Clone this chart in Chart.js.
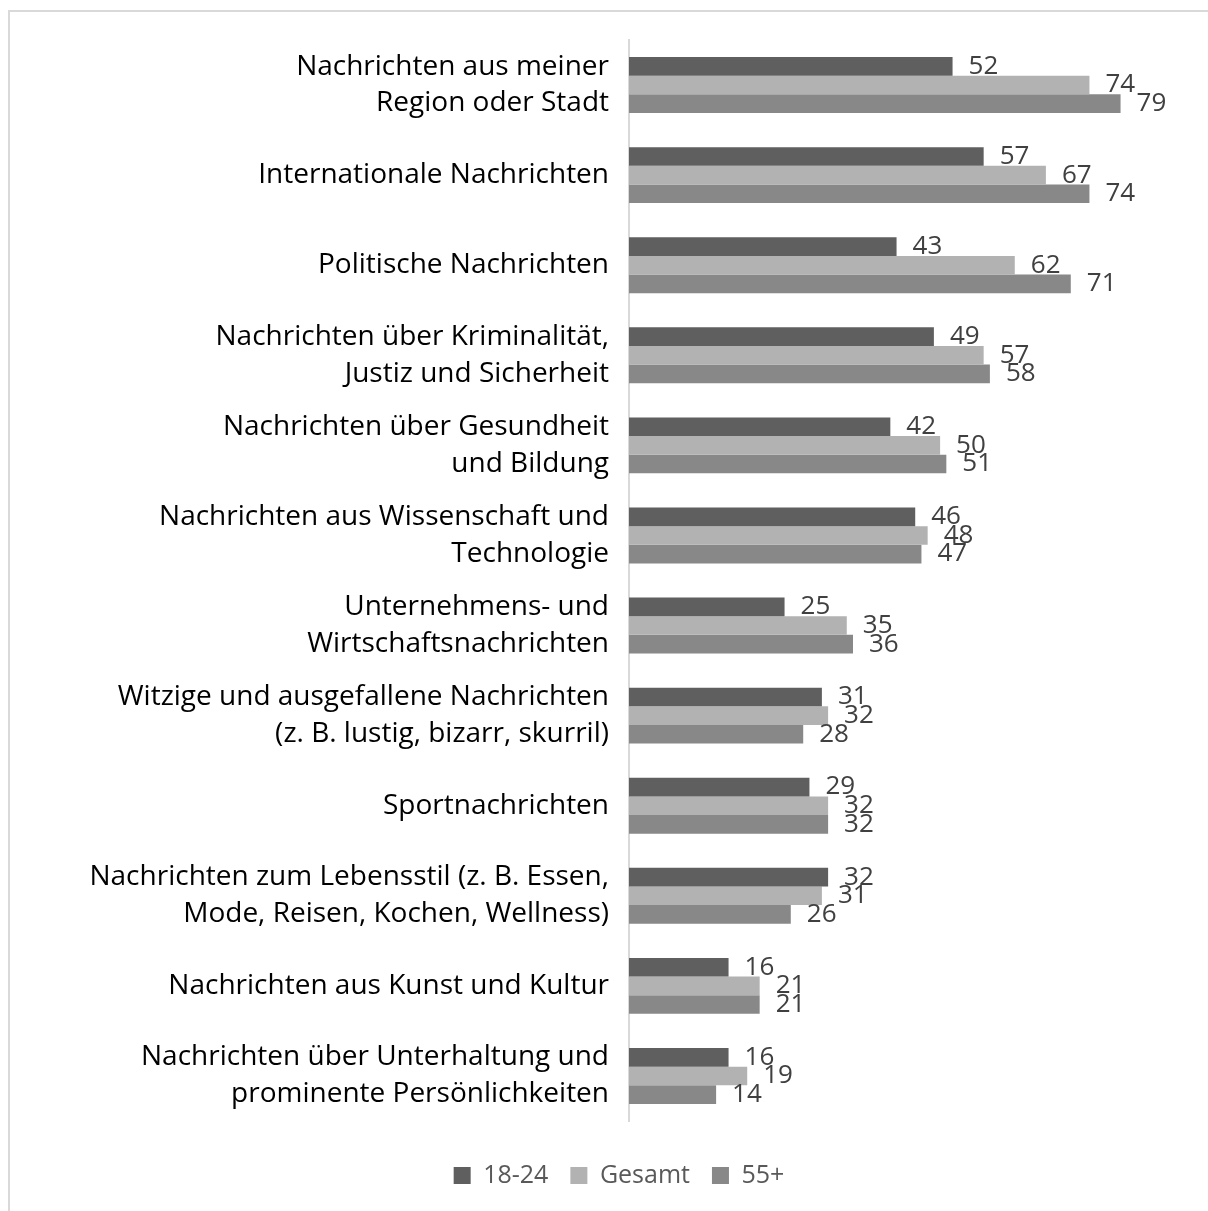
<!DOCTYPE html>
<html>
<head>
<meta charset="utf-8">
<script src="https://cdn.jsdelivr.net/npm/chart.js@4"></script>
<style>
  body { margin: 0; background: #fff; }
  #frame { position: absolute; left: 8px; top: 10px; width: 1300px; height: 1300px; border: 2px solid #d9d9d9; }
  #wrap { position: absolute; left: 0; top: 0; width: 1208px; height: 1211px; }
</style>
</head>
<body>
<div id="frame"></div>
<div id="wrap"><canvas id="myChart"></canvas></div>
<script>
const categories = [
    ['Nachrichten aus meiner', 'Region oder Stadt'],
    'Internationale Nachrichten',
    'Politische Nachrichten',
    ['Nachrichten über Kriminalität,', 'Justiz und Sicherheit'],
    ['Nachrichten über Gesundheit', 'und Bildung'],
    ['Nachrichten aus Wissenschaft und', 'Technologie'],
    ['Unternehmens- und', 'Wirtschaftsnachrichten'],
    ['Witzige und ausgefallene Nachrichten', '(z. B. lustig, bizarr, skurril)'],
    'Sportnachrichten',
    ['Nachrichten zum Lebensstil (z. B. Essen,', 'Mode, Reisen, Kochen, Wellness)'],
    'Nachrichten aus Kunst und Kultur',
    ['Nachrichten über Unterhaltung und', 'prominente Persönlichkeiten']
];
const seriesNames = ['18-24', 'Gesamt', '55+'];
const young = [52, 57, 43, 49, 42, 46, 25, 31, 29, 32, 16, 16];
const total = [74, 67, 62, 57, 50, 48, 35, 32, 32, 31, 21, 19];
const older = [79, 74, 71, 58, 51, 47, 36, 28, 32, 26, 21, 14];

const FONT = '"Open Sans", "DejaVu Sans", sans-serif';

// value labels at the end of each bar
const barLabels = {
    id: 'barLabels',
    afterDatasetsDraw(chart) {
        const ctx = chart.ctx;
        ctx.save();
        ctx.font = '26px ' + FONT;
        ctx.fillStyle = '#404040';
        ctx.textBaseline = 'middle';
        ctx.textAlign = 'left';
        chart.data.datasets.forEach((ds, i) => {
            chart.getDatasetMeta(i).data.forEach((bar, j) => {
                ctx.fillText(ds.data[j], bar.x + 16, bar.y);
            });
        });
        ctx.restore();
    }
};

const createChart = () => {
    const ctx = document.getElementById('myChart').getContext('2d');
    const data = {
        labels: categories,
        datasets: [
            { label: seriesNames[0], data: young, backgroundColor: '#5f5f5f' },
            { label: seriesNames[1], data: total, backgroundColor: '#b2b2b2' },
            { label: seriesNames[2], data: older, backgroundColor: '#888888' }
        ]
    };
    const config = {
        type: 'bar',
        data: data,
        options: {
            indexAxis: 'y',
            responsive: true,
            maintainAspectRatio: false,
            animation: false,
            categoryPercentage: 0.62,
            barPercentage: 1,
            layout: { padding: { top: 40, right: 19, bottom: 13, left: 49 } },
            scales: {
                x: { display: false, min: 0, max: 90 },
                y: {
                    afterFit(scale) {
                        scale.width = 580;
                        scale.paddingTop = 0;
                        scale.paddingBottom = 0;
                    },
                    grid: { display: false, drawTicks: false },
                    border: { display: true, color: '#d9d9d9', width: 2 },
                    ticks: {
                        padding: 20,
                        color: '#000000',
                        font: { family: FONT, size: 28, lineHeight: 1.32 }
                    }
                }
            },
            plugins: {
                tooltip: { enabled: false },
                legend: {
                    position: 'bottom',
                    title: { display: true, text: '', padding: { top: 0, bottom: 8 }, font: { size: 10 } },
                    labels: {
                        boxWidth: 17,
                        boxHeight: 17,
                        padding: 22,
                        color: '#595959',
                        font: { family: FONT, size: 25 }
                    }
                }
            }
        },
        plugins: [barLabels]
    };
    new Chart(ctx, config);
};

createChart();
</script>
</body>
</html>
